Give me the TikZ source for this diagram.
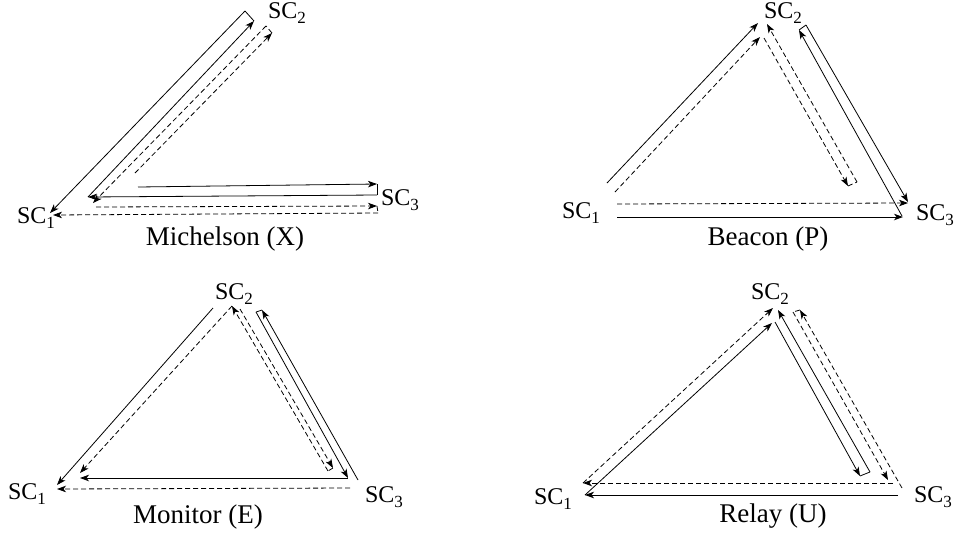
\documentclass[tikz,border=0pt]{standalone}
\usepackage{fontspec}
\setmainfont{Liberation Serif}
\usetikzlibrary{arrows.meta}
\newcommand{\scname}[1]{SC\raisebox{-5pt}{\fontsize{17}{17}\selectfont #1}}
\tikzset{
  sc label/.style={
    inner sep=0pt, font=\fontsize{24}{28}\selectfont
  },
  panel caption/.style={
    inner sep=0pt, font=\fontsize{27}{32}\selectfont
  },
  laser/.style={
    line width=0.8pt, -{Stealth[length=9pt,width=6.5pt,inset=2.5pt]}
  },
  laser dash/.style={
    laser, dash pattern=on 5pt off 3pt
  },
  bounce/.style={
    line width=0.8pt
  },
  bounce dash/.style={
    bounce, dash pattern=on 5pt off 3pt
  }
}

\begin{document}
\begin{tikzpicture}[x=1pt,y=-1pt]
\useasboundingbox (0,0) rectangle (959,539);

% 左上：Michelson
\begin{scope}[shift={(0,0)}]
  \node[sc label] (m1) at (36,218) {\scname{1}};
  \node[sc label] (m2) at (287,13) {\scname{2}};
  \node[sc label] (m3) at (400,200) {\scname{3}};
  \coordinate (ma) at (138,187);
  \coordinate (mb) at (377,184);
  \coordinate (mc) at (377,195);
  \coordinate (md) at (88,197);
  \coordinate (me) at (254,21);
  \coordinate (mf) at (245,11);
  \coordinate (mg) at (50,213);
  \coordinate (mh) at (135,173);
  \coordinate (mi) at (272,33);
  \coordinate (mj) at (266,26);
  \coordinate (mk) at (93,203);
  \coordinate (ml) at (96,207);
  \coordinate (mm) at (377,206);
  \coordinate (mn) at (378,213);
  \coordinate (mo) at (53,215);

  \draw[laser] (ma) -- (mb);
  \draw[bounce] (mb) -- (mc);
  \draw[laser] (mc) -- (md);
  \draw[laser] (md) -- (me);
  \draw[bounce] (me) -- (mf);
  \draw[laser] (mf) -- (mg);
  \draw[laser dash] (mh) -- (mi);
  \draw[bounce dash] (mi) -- (mj);
  \draw[laser dash] (mj) -- (mk);
  \draw[laser dash] (ml) -- (mm);
  \draw[bounce dash] (mm) -- (mn);
  \draw[laser dash] (mn) -- (mo);
  \node[panel caption] at (225,239) {Michelson (X)};
\end{scope}

% 右上：Beacon
\begin{scope}[shift={(480,0)}]
  \node[sc label] (b1) at (101,213) {\scname{1}};
  \node[sc label] (b2) at (303,13) {\scname{2}};
  \node[sc label] (b3) at (455,215) {\scname{3}};
  \coordinate (ba) at (127,183);
  \coordinate (bb) at (278,23);
  \coordinate (bc) at (135,192);
  \coordinate (bd) at (280,37);
  \coordinate (be) at (284,38);
  \coordinate (bf) at (368,186);
  \coordinate (bg) at (377,182);
  \coordinate (bh) at (287,24);
  \coordinate (bi) at (326,25);
  \coordinate (bj) at (428,202);
  \coordinate (bk) at (422,216);
  \coordinate (bl) at (319,30);
  \coordinate (bn) at (137,204);
  \coordinate (bo) at (428,203);
  \coordinate (bp) at (137,217);
  \coordinate (bq) at (423,217);

  \draw[laser] (ba) -- (bb);
  \draw[laser dash] (bc) -- (bd);
  \draw[laser dash] (be) -- (bf);
  \draw[bounce dash] (bf) -- (bg);
  \draw[laser dash] (bg) -- (bh);
  \draw[laser] (bi) -- (bj);
  \draw[laser] (bk) -- (bl);
  \draw[bounce] (bl) -- (bi);
  \draw[laser dash] (bn) -- (bo);
  \draw[laser] (bp) -- (bq);
  \node[panel caption] at (288,239) {Beacon (P)};
\end{scope}

% 左下：Monitor
\begin{scope}[shift={(0,240)}]
  \node[sc label] (e1) at (27,254) {\scname{1}};
  \node[sc label] (e2) at (234,54) {\scname{2}};
  \node[sc label] (e3) at (384,257) {\scname{3}};
  \coordinate (ea) at (213,68);
  \coordinate (eb) at (57,245);
  \coordinate (ec) at (232,66);
  \coordinate (ed) at (80,233);
  \coordinate (ee) at (240,69);
  \coordinate (ef) at (333,228);
  \coordinate (eg) at (328,231);
  \coordinate (ei) at (358,240);
  \coordinate (ej) at (262,70);
  \coordinate (ek) at (256,72);
  \coordinate (el) at (348,238);
  \coordinate (em) at (80,238);
  \coordinate (en) at (350,248);
  \coordinate (eo) at (57,249);

  \draw[laser] (ea) -- (eb);
  \draw[laser dash] (ec) -- (ed);
  \draw[laser dash] (ee) -- (ef);
  \draw[bounce dash] (ef) -- (eg);
  \draw[laser dash] (eg) -- (ec);
  \draw[laser] (ei) -- (ej);
  \draw[bounce] (ej) -- (ek);
  \draw[laser] (ek) -- (el);
  \draw[laser] (el) -- (em);
  \draw[laser dash] (en) -- (eo);
  \node[panel caption] at (198,277) {Monitor (E)};
\end{scope}

% 右下：Relay
\begin{scope}[shift={(480,240)}]
  \node[sc label] (u1) at (73,259) {\scname{1}};
  \node[sc label] (u2) at (290,54) {\scname{2}};
  \node[sc label] (u3) at (453,257) {\scname{3}};
  \coordinate (ua) at (105,255);
  \coordinate (ub) at (292,83);
  \coordinate (uc) at (295,82);
  \coordinate (ud) at (380,236);
  \coordinate (ue) at (390,232);
  \coordinate (uf) at (298,70);
  \coordinate (ug) at (422,248);
  \coordinate (uh) at (320,70);
  \coordinate (ui) at (313,72);
  \coordinate (uj) at (408,240);
  \coordinate (uk) at (413,243);
  \coordinate (ul) at (103,243);
  \coordinate (un) at (293,68);
  \coordinate (uo) at (418,255);

  \draw[laser] (ua) -- (ub);
  \draw[laser] (uc) -- (ud);
  \draw[bounce] (ud) -- (ue);
  \draw[laser] (ue) -- (uf);
  \draw[laser dash] (ug) -- (uh);
  \draw[bounce dash] (uh) -- (ui);
  \draw[laser dash] (ui) -- (uj);
  \draw[laser dash] (uk) -- (ul);
  \draw[laser dash] (ul) -- (un);
  \draw[laser] (uo) -- (ua);
  \node[panel caption] at (293,276) {Relay (U)};
\end{scope}

\end{tikzpicture}
\end{document}
